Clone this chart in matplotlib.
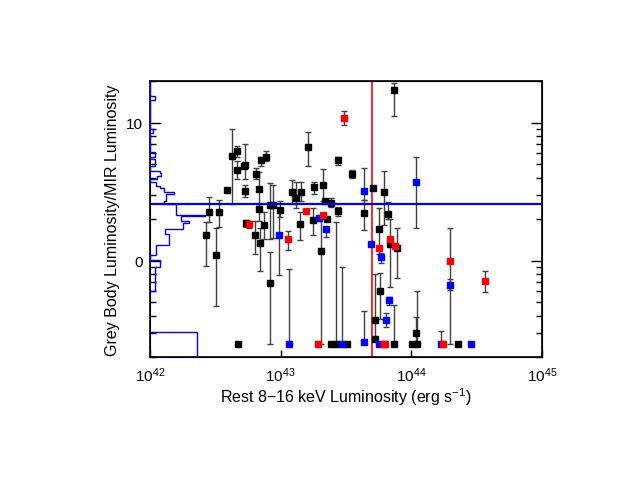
import numpy as np
import matplotlib
matplotlib.use("Agg")
import matplotlib.pyplot as plt
from matplotlib.ticker import FixedLocator, FixedFormatter, LogLocator, NullLocator, NullFormatter

plt.rcParams['font.family'] = ['Liberation Sans', 'DejaVu Sans']
plt.rcParams['mathtext.fontset'] = 'custom'
plt.rcParams['mathtext.rm'] = 'Liberation Sans'
plt.rcParams['mathtext.default'] = 'regular'

nan = np.nan

# log10 of rest 8-16 keV luminosity, ratio, lower / upper end of error bar
blk_logx = [42.451, 42.426, 42.528, 42.507, 42.587, 42.625, 42.668, 42.666, 42.727, 42.717,
            42.727, 42.737, 42.808, 42.849, 42.891, 42.836, 42.836, 42.842, 42.803, 42.872,
            42.918, 42.943, 42.918, 42.998, 43.086, 43.117, 43.155, 43.150, 43.209, 43.258,
            43.249, 43.327, 43.337, 43.385, 43.357, 43.438, 43.440, 43.543, 43.306, 43.639,
            43.710, 43.787, 43.867, 43.821, 43.833, 43.752, 43.890, 43.760, 43.724, 43.719,
            44.037, 42.671, 43.385, 43.421, 43.505, 43.867, 44.002, 44.043, 44.359]
blk_y = [2.25, 1.54, 2.25, 1.11, 3.26, 5.77, 6.22, 4.59, 4.97, 4.85,
         3.20, 1.88, 4.27, 5.38, 5.70, 3.31, 2.38, 1.35, 1.53, 1.83,
         2.54, 2.54, 0.69, 2.35, 3.14, 2.84, 3.17, 1.84, 6.70, 3.42,
         1.99, 3.54, 2.70, 2.63, 2.01, 2.30, 5.36, 4.27, 1.18, 2.23,
         3.35, 3.14, 17.4, 2.19, 1.32, 1.70, 1.23, 0.60, 0.37, 0.27,
         0.30, 0.25, 0.25, 0.25, 0.25, 0.25, 0.25, 0.25, 0.25]
blk_lo = [1.90, 0.92, 1.75, 0.47, nan, 2.57, 5.69, 3.91, 3.90, nan,
          2.89, 1.75, 3.91, 4.83, 5.29, 2.60, 1.94, 0.85, 1.13, 1.45,
          1.45, 1.47, 0.25, 2.08, 2.60, 2.40, 2.70, 1.41, 4.88, 3.05,
          1.53, 2.70, nan, 2.45, nan, 2.13, 4.93, 3.97, 0.25, 1.66,
          nan, 1.82, 11.3, 2.01, 0.65, 1.13, 0.75, 0.38, 0.27, nan,
          0.25, nan, nan, 0.25, nan, 0.25, nan, 0.25, nan]
blk_hi = [2.89, 1.90, 2.76, 1.74, nan, 8.95, 6.79, 5.29, 6.98, nan,
          3.55, 1.98, 4.74, 5.69, 6.25, 4.37, 2.60, 1.72, 1.94, 2.25,
          3.64, 3.54, 1.16, 2.71, 3.85, 3.72, 3.74, 2.25, 8.55, 3.73,
          2.40, 4.65, nan, 2.85, nan, 2.45, 5.66, 4.57, 2.00, 2.76,
          nan, 4.49, 19.4, 2.65, 2.01, 2.40, 1.73, 0.82, 0.80, nan,
          0.39, nan, nan, 1.90, nan, 0.48, nan, 0.60, nan]

blu_logx = [42.991, 43.064, 43.295, 43.344, 43.467, 43.635, 43.635, 43.694, 43.770, 43.832,
            43.806, 43.752, 44.037, 44.299, 44.224, 44.456]
blu_y = [1.55, 0.25, 2.05, 1.69, 0.25, 3.20, 0.26, 1.32, 1.07, 0.52,
         0.37, 0.25, 3.72, 0.67, 0.25, 0.25]
blu_lo = [0.79, 0.25, nan, 1.50, 0.25, 2.76, 0.26, nan, 0.96, 0.48,
          0.33, nan, 1.72, 0.61, 0.25, nan]
blu_hi = [2.40, 0.87, nan, 1.77, 0.90, 4.69, 0.43, nan, 1.14, 0.55,
          0.42, nan, 5.70, 0.74, 0.31, nan]

red_logx = [42.755, 43.056, 43.194, 43.321, 43.288, 43.481, 43.750, 43.787, 43.798, 43.836,
            43.878, 44.244, 44.299, 44.563]
red_y = [1.84, 1.44, 2.31, 2.15, 0.25, 10.9, 1.24, 0.25, 0.25, 1.43,
         1.29, 0.25, 0.99, 0.72]
red_lo = [1.74, 1.20, nan, nan, nan, 9.6, nan, nan, nan, nan,
          nan, nan, 0.25, 0.59]
red_hi = [1.95, 1.64, nan, nan, nan, 12.1, nan, nan, nan, nan,
          nan, nan, 1.74, 0.85]

median_ratio = 2.57
lx_cut = 5e43

# side histogram (log10 ratio bin edges, counts)
hist_edges = [-0.219, -0.043, 0.004, 0.040, 0.112, 0.191, 0.232, 0.256, 0.276, 0.292,
              0.324, 0.335, 0.412, 0.436, 0.484, 0.501, 0.525, 0.544, 0.568, 0.592,
              0.616, 0.640, 0.652, 0.688, 0.741, 0.755, 0.789, 0.928, 0.952, 1.168,
              1.191, 1.30]
hist_counts = [1.0, 2.0, 0.0, 1.2, 3.9, 3.1, 6.7, 6.8, 8.0, 6.3,
               11.2, 5.4, 2.9, 3.2, 4.8, 2.9, 2.0, 1.2, 0.0, 1.5,
               2.2, 2.0, 0.0, 1.0, 0.0, 1.0, 0.0, 0.7, 0.0, 1.0,
               0.0]
low_edges = [-0.699, -0.518]
low_counts = [9.65]

fig = plt.figure(figsize=(6.23, 4.81), dpi=100)
ax = fig.add_axes([150/623, 1-358.3/481, 392/623, 276/481])

def draw(logx, y, lo, hi, col):
    x = 10**np.array(logx)
    y = np.array(y)
    lo = np.array(lo)
    hi = np.array(hi)
    m = ~np.isnan(lo)
    ax.errorbar(x[m], y[m], yerr=[y[m]-lo[m], hi[m]-y[m]], fmt='none', ecolor='0.25',
                elinewidth=1.0, capsize=2.5, capthick=1.0, zorder=2)
    ax.plot(x, y, 's', color=col, ms=5, mec=col, zorder=3, clip_on=False)

draw(blk_logx, blk_y, blk_lo, blk_hi, 'black')
draw(blu_logx, blu_y, blu_lo, blu_hi, '#0000ff')
draw(red_logx, red_y, red_lo, red_hi, '#ff0000')

ax.axvline(lx_cut, color='#ff0000', lw=1.2, zorder=1)
ax.axhline(median_ratio, color='#0000ff', lw=1.6, zorder=4)

ax.set_xscale('log')
ax.set_yscale('log')
ax.set_xlim(1e42, 1e45)
ax.set_ylim(0.2, 20)

ax.xaxis.set_major_locator(FixedLocator([1e42, 1e43, 1e44, 1e45]))
ax.xaxis.set_major_formatter(FixedFormatter([r'$10^{42}$', r'$10^{43}$', r'$10^{44}$', r'$10^{45}$']))
ax.xaxis.set_minor_locator(NullLocator())
ax.yaxis.set_major_locator(FixedLocator([1, 10]))
ax.yaxis.set_major_formatter(FixedFormatter(['0', '10']))
ax.yaxis.set_minor_locator(LogLocator(base=10, subs=np.arange(2, 10)))
ax.yaxis.set_minor_formatter(NullFormatter())
ax.tick_params(which='both', direction='in', top=True, right=True, labelsize=11, width=1)
ax.tick_params(axis='x', which='major', length=5, pad=6)
ax.tick_params(axis='y', which='major', length=8, pad=5)
ax.tick_params(which='minor', length=4)
for s in ax.spines.values():
    s.set_linewidth(1.2)

ax.set_xlabel('Rest 8\u221216 keV Luminosity (erg s$^{-1}$)', fontsize=11.5, labelpad=1)
ax.set_ylabel('Grey Body Luminosity/MIR Luminosity', fontsize=11.5, labelpad=4)

# histogram on a twin axis sharing the y scale
axh = ax.twiny()
axh.set_xlim(0, 80)
axh.set_xticks([])
axh.stairs(hist_counts, 10**np.array(hist_edges), orientation='horizontal', baseline=0,
           color='#0000ff', lw=1.0, zorder=5)
axh.stairs(low_counts, 10**np.array(low_edges), orientation='horizontal', baseline=0,
           color='#0000ff', lw=1.0, zorder=5)
axh.set_ylim(0.2, 20)

fig.savefig('out.png', dpi=100)
